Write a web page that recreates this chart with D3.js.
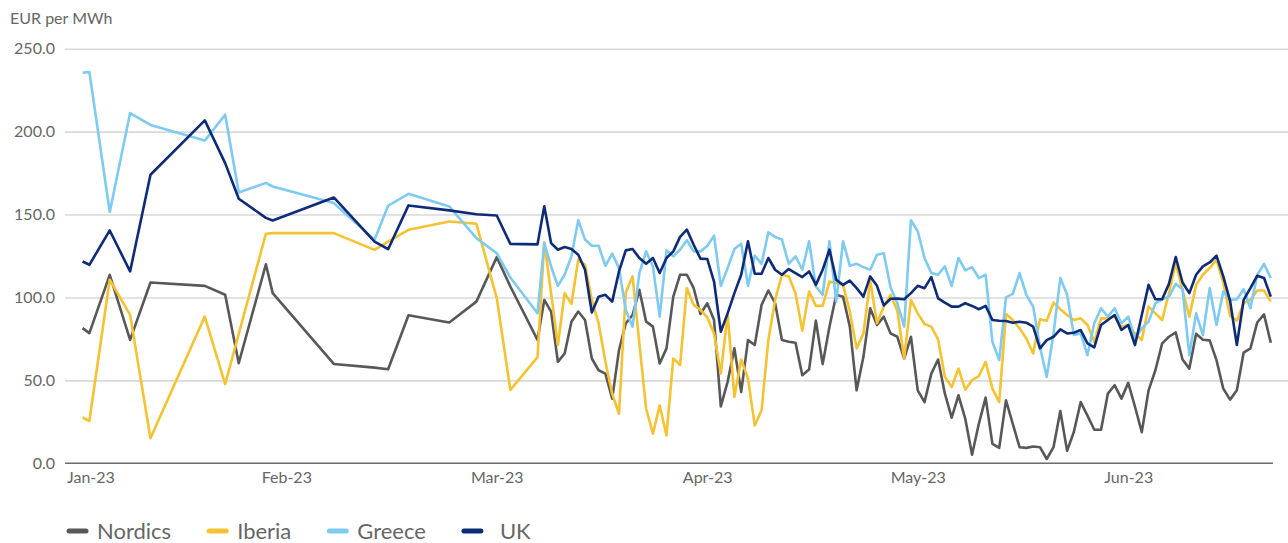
<!DOCTYPE html>
<html>
<head>
<meta charset="utf-8">
<script src="https://cdn.jsdelivr.net/npm/d3@7"></script>
<style>
  html, body { margin: 0; padding: 0; background: #ffffff; }
  svg { display: block; font-family: Lato, "Open Sans", "Noto Sans", sans-serif; }
</style>
</head>
<body>
<svg id="chart" width="1288" height="543"></svg>
<script>
// ---------------- DATA ----------------
const unitLabel = "EUR per MWh";
const seriesNames = ["Nordics", "Iberia", "Greece", "UK"];

const dates = [
  "2023-01-03","2023-01-04","2023-01-07","2023-01-10","2023-01-13","2023-01-21","2023-01-24","2023-01-26",
  "2023-01-30","2023-01-31","2023-02-09","2023-02-15","2023-02-17","2023-02-20","2023-02-26","2023-03-02",
  "2023-03-05","2023-03-07","2023-03-11",
  "2023-03-12","2023-03-13","2023-03-14","2023-03-15","2023-03-16","2023-03-17","2023-03-18","2023-03-19",
  "2023-03-20","2023-03-21","2023-03-22","2023-03-23","2023-03-24","2023-03-25","2023-03-26","2023-03-27",
  "2023-03-28","2023-03-29","2023-03-30","2023-03-31",
  "2023-04-01","2023-04-02","2023-04-03","2023-04-04","2023-04-05","2023-04-06","2023-04-07","2023-04-08",
  "2023-04-09","2023-04-10","2023-04-11","2023-04-12","2023-04-13","2023-04-14","2023-04-15","2023-04-16",
  "2023-04-17","2023-04-18","2023-04-19","2023-04-20","2023-04-21","2023-04-22","2023-04-23","2023-04-24",
  "2023-04-25","2023-04-26","2023-04-27","2023-04-28","2023-04-29","2023-04-30",
  "2023-05-01","2023-05-02","2023-05-03","2023-05-04","2023-05-05","2023-05-06","2023-05-07","2023-05-08",
  "2023-05-09","2023-05-10","2023-05-11","2023-05-12","2023-05-13","2023-05-14","2023-05-15","2023-05-16",
  "2023-05-17","2023-05-18","2023-05-19","2023-05-20","2023-05-21","2023-05-22","2023-05-23","2023-05-24",
  "2023-05-25","2023-05-26","2023-05-27","2023-05-28","2023-05-29","2023-05-30","2023-05-31",
  "2023-06-01","2023-06-02","2023-06-03","2023-06-04","2023-06-05","2023-06-06","2023-06-07","2023-06-08",
  "2023-06-09","2023-06-10","2023-06-11","2023-06-12","2023-06-13","2023-06-14","2023-06-15","2023-06-16",
  "2023-06-17","2023-06-18","2023-06-19","2023-06-20","2023-06-21","2023-06-22","2023-06-23","2023-06-24",
  "2023-06-25","2023-06-26","2023-06-27"
];

const nordics = [
  81.5,78.5,113.6,74.4,109,107,101.6,60.4,120,102.6,59.9,57.7,56.7,89.3,84.9,97.5,124.3,106.6,74.4,
  98.5,91.5,61.2,66.2,85.4,91.5,86.4,63.2,56.1,54.1,39,68.2,84.4,89.4,104.6,85.4,82.4,60.2,69.3,100.5,
  113.7,113.7,105.6,90,96.5,86.4,34.3,49.1,69.3,43,74.3,71.3,95.5,104.2,96.5,74.3,73.3,72.7,53.1,56.5,
  86,59.8,82.4,101.6,100.5,82.4,44,64.2,93.5,83.4,
  88.4,78.3,76.3,63.2,76.3,44,36.9,54.1,62.6,42,27.5,41,26.9,5.2,23.8,39.6,11.7,9.3,38,23.8,
  9.7,9.3,10.1,9.7,2.6,9.7,31.5,7.5,19,36.9,28.7,
  20.2,20.2,42,47.1,39,48.5,34.1,18.8,44,56.1,72.3,76.3,78.9,62.6,57.1,78.1,74.5,74.1,62.2,45,
  38.4,44,66.8,69.3,84.9,89.8,72.7
];

const iberia = [
  27.6,25.5,110.7,89.5,15.1,88.5,47.7,78,138.4,138.8,138.8,128.7,133.7,140.8,145.8,144.4,99.6,44.2,64,
  133.3,102.6,71.3,102.6,96.1,122.8,119.7,98.5,84.4,61.2,42,29.9,103,112.7,72.3,32.9,17.8,34.9,16.8,63.2,
  59.2,105.6,95.5,92.5,88,78.3,54.1,90,40,62.6,51.1,22.8,31.9,74.3,98.5,113.7,112.7,102.6,80,103.6,
  94.9,94.9,109.6,108.6,107.6,91.5,69.3,78.3,110.2,84.4,
  94.5,101.6,92,63.2,98.5,90.4,84,82.4,74.7,52.1,46,57.1,44.4,50.1,52.5,61.2,45,36.9,90,86.4,
  81.4,75.3,66.2,86.8,86,96.9,92.9,89.4,86.4,87.4,83.4,
  73.3,87.4,87.4,88.4,82.4,83.4,78.3,74.3,94.5,90.4,86.4,102.6,120.7,104.6,88.4,107.6,113.7,117.7,122.8,109,
  89,86,96.5,98.5,104.2,104.2,97.5
];

const greece = [
  235.5,236,151.5,211.2,204,194.6,210.2,163.3,169.1,166.9,156.9,134.8,155.3,162.5,154.9,135.8,126.7,112,90.5,
  132.8,118.7,107,113.7,124.8,146.6,134.9,131.2,131.2,119.1,126.4,117.7,92.5,82.4,114.7,127.8,118.7,88.4,128.4,124.8,
  128.8,134.5,127.8,127.8,131,137.3,107,117.7,129.2,132.4,107,125.2,120.3,139.3,136.5,134.9,120.3,124.8,116.7,133.9,
  106.6,101.6,133.9,97.5,133.9,119.1,120.3,118.3,116.7,125.8,
  126.6,106,96.5,82.4,146.6,139.9,123.8,114.7,113.7,118.7,107,123.8,116.3,118.3,111.7,113.7,73.3,62.2,100.1,102.2,
  114.7,101.6,94.5,70.3,52.1,78.3,111.7,101.6,77.3,78.3,65.2,
  84.4,93.5,88.4,93.5,84.4,88.4,75.3,81.4,85.4,96.5,98.9,100.5,108.2,105,65.2,90.4,77.3,105.6,83.4,103.6,
  98.5,98.9,104.9,93.5,113.6,120.2,111.7
];

const uk = [
  121.7,119.7,140.4,115.7,174,206.8,181,159.5,148,146.4,160.3,133.7,129.1,155.5,152.5,150.2,149.4,132.3,132,
  155,132.8,128.8,130.4,129.2,125.8,116.7,90.9,100.5,101.6,97.5,115.7,128.4,129.2,123.8,120.3,123.8,114.7,123.8,127.8,
  136.5,140.9,131.8,123.4,123.2,109.6,79.3,90.4,102.6,113.7,133.9,114.3,114.3,123.8,116.7,113.7,117.1,114.7,112.3,115.7,
  107.6,116.7,128.8,110.6,107.6,110.2,105.6,100.5,112.7,107,
  95.2,99.2,99.3,98.9,102.6,107,105.6,112.3,99.5,96.9,94.5,94.5,96.5,94.9,92.9,94.9,86.4,86,85.8,84.8,
  85.4,84.8,82.4,69.3,74.3,76.3,80.8,78.3,78.7,80.4,72.3,
  69.9,83.4,86.4,89.4,80.4,83.4,71.3,89.4,107.6,98.9,98.9,108.2,124.4,109,102.6,113.7,118.7,121.1,125.2,112.7,
  98,71.3,98.5,105.6,113.1,111.7,100.5
];

const yTicks = [0, 50, 100, 150, 200, 250];
const xTickDates = ["2023-01-02","2023-02-02","2023-03-05","2023-04-05","2023-05-06","2023-06-06"];
const xDomain = ["2023-01-01", "2023-06-27"];

// ---------------- STYLE / LAYOUT ----------------
const colors = { Nordics: "#58585a", Iberia: "#f5c231", Greece: "#7ecaf0", UK: "#0e2b78" };
const legendTextGap = { Nordics: 30, Iberia: 30, Greece: 30, UK: 38 };
const textColor = "#666666";
const W = 1288, H = 543;
const plotLeft = 65, plotRight = 1273;
const xStart = 69, xEnd = 1270.8;
const yTop = 48.7, yBottom = 463.3;

const parse = d3.timeParse("%Y-%m-%d");
const fmt = d3.timeFormat("%b-%y");
const dateObjs = dates.map(parse);

const x = d3.scaleTime().domain(xDomain.map(parse)).range([xStart, xEnd]);
const y = d3.scaleLinear().domain([0, 250]).range([yBottom, yTop]);

const svg = d3.select("#chart");

// gridlines + y labels
const yAxis = d3.axisLeft(y)
  .tickValues(yTicks)
  .tickFormat(d3.format(".1f"))
  .tickSize(-(W - plotLeft))
  .tickPadding(10);

const gy = svg.append("g").attr("transform", `translate(${plotLeft},0)`).call(yAxis);
gy.select(".domain").remove();
gy.selectAll(".tick line")
  .attr("stroke", "#d9d9d9")
  .attr("stroke-width", 1.6)
  .filter(d => d === 0).remove();
gy.selectAll(".tick text")
  .attr("fill", textColor)
  .attr("font-size", 16)
  .attr("font-family", "Lato, 'Open Sans', sans-serif");

// x axis
const xAxis = d3.axisBottom(x)
  .tickValues(xTickDates.map(parse))
  .tickFormat(fmt)
  .tickSize(0)
  .tickPadding(8.5);

const gx = svg.append("g").attr("transform", `translate(0,${yBottom})`).call(xAxis);
gx.select(".domain").remove();
gx.selectAll(".tick text")
  .attr("fill", textColor)
  .attr("font-size", 16)
  .attr("font-family", "Lato, 'Open Sans', sans-serif");
// keep first label inside the plot area
gx.selectAll(".tick text").each(function () {
  const bb = this.getBBox();
  const tx = d3.select(this.parentNode).attr("transform");
  const cx = +/translate\(([-\d.]+)/.exec(tx)[1];
  if (cx + bb.x < plotLeft + 2) {
    d3.select(this).attr("text-anchor", "start").attr("x", plotLeft + 2 - cx);
  }
});

// baseline
svg.append("line")
  .attr("x1", plotLeft).attr("x2", plotRight)
  .attr("y1", y(0)).attr("y2", y(0))
  .attr("stroke", "#6b6b6b").attr("stroke-width", 1.6);

// unit label
svg.append("text")
  .attr("x", 10).attr("y", 24)
  .attr("fill", textColor)
  .attr("font-size", 16)
  .text(unitLabel);

// series lines
const seriesData = { Nordics: nordics, Iberia: iberia, Greece: greece, UK: uk };
const line = d3.line()
  .x(d => x(d.date))
  .y(d => y(d.value));

seriesNames.forEach(name => {
  const pts = dateObjs.map((dt, i) => ({ date: dt, value: seriesData[name][i] }))
    .filter(p => p.value != null);
  svg.append("path")
    .datum(pts)
    .attr("fill", "none")
    .attr("stroke", colors[name])
    .attr("stroke-width", 2.6)
    .attr("stroke-linejoin", "round")
    .attr("stroke-linecap", "butt")
    .attr("d", line);
});

// legend
const legend = svg.append("g").attr("transform", "translate(0,531)");
let lx = 67;
seriesNames.forEach(name => {
  legend.append("line")
    .attr("x1", lx + 2).attr("x2", lx + 19)
    .attr("y1", 0).attr("y2", 0)
    .attr("stroke", colors[name])
    .attr("stroke-width", 5)
    .attr("stroke-linecap", "round");
  const t = legend.append("text")
    .attr("x", lx + legendTextGap[name]).attr("y", 8)
    .attr("fill", textColor)
    .attr("font-size", 22)
    .text(name);
  lx = lx + legendTextGap[name] + t.node().getComputedTextLength() + 36;
});
</script>
</body>
</html>
